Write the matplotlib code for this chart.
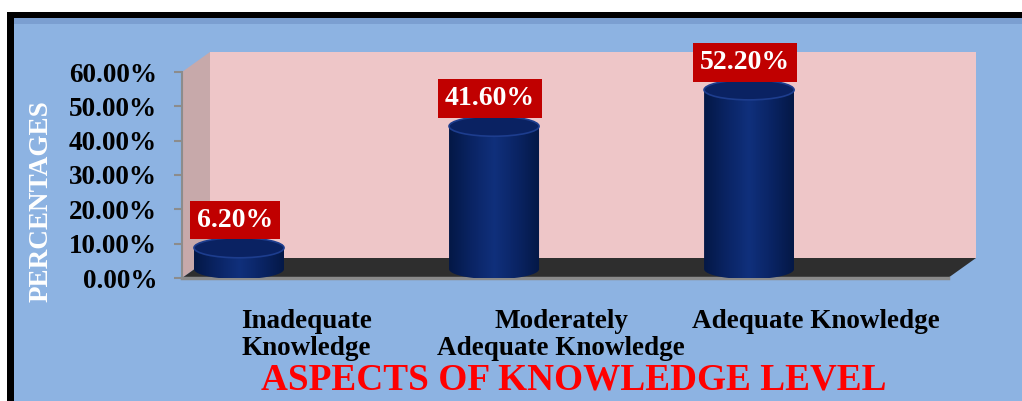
import numpy as np
import matplotlib.pyplot as plt
from matplotlib.patches import Polygon, Ellipse, Rectangle
from matplotlib.colors import LinearSegmentedColormap
from matplotlib.ticker import FuncFormatter

# chart data
categories = ["Inadequate\nKnowledge", "Moderately\nAdequate Knowledge", "Adequate Knowledge"]
percentages = [6.20, 41.60, 52.20]
y_ticks = [0, 10, 20, 30, 40, 50, 60]
y_label = "PERCENTAGES"
title_text = "ASPECTS OF KNOWLEDGE LEVEL"

SERIF = ["Liberation Serif", "DejaVu Serif"]
W, H = 1022, 401

fig = plt.figure(figsize=(W / 100, H / 100), dpi=100, facecolor="white")

# black frame + blue chart area
fig.patches.append(Rectangle((7 / W, 0), 1, 1 - 12 / H, transform=fig.transFigure,
                             facecolor="black", edgecolor="none", zorder=-5))
fig.patches.append(Rectangle((14 / W, 0), 1, 1 - 18 / H, transform=fig.transFigure,
                             facecolor="#8db3e2", edgecolor="none", zorder=-4))
fig.patches.append(Rectangle((14 / W, 1 - 24 / H), 1, 6 / H, transform=fig.transFigure,
                             facecolor="#6f93c6", edgecolor="none", alpha=0.6, zorder=-3))

# plot area (front plane of the 3d box)
ax = fig.add_axes([182 / W, (H - 278) / H, 766 / W, 206 / H])
ax.patch.set_visible(False)
xl, xr = -0.2235, 2.78
ax.set_xlim(xl, xr)
ax.set_ylim(0, 60)

# depth offsets of the 3d box
dx = 28 * (xr - xl) / 766
dy = 20 * 60 / 206
ytop = 60

# back wall
ax.add_patch(Polygon([(xl + dx, dy), (xr + dx, dy), (xr + dx, ytop + dy), (xl + dx, ytop + dy)],
                     closed=True, facecolor="#eec6c8", edgecolor="none", zorder=0, clip_on=False))
# side wall
ax.add_patch(Polygon([(xl, 0), (xl + dx, dy), (xl + dx, ytop + dy), (xl, ytop)],
                     closed=True, facecolor="#c7a9aa", edgecolor="none", zorder=0, clip_on=False))
# floor
ax.add_patch(Polygon([(xl, 0), (xr, 0), (xr + dx, dy), (xl + dx, dy)],
                     closed=True, facecolor="#2e2e2e", edgecolor="none", zorder=1, clip_on=False))

# cylinders
bar_w = 90 * (xr - xl) / 766
ell_h = 20 * 60 / 206
base = 2.6
cmap = LinearSegmentedColormap.from_list(
    "cyl", ["#041846", "#0a2464", "#10307c", "#0a2464", "#041846"])
grad = np.linspace(0, 1, 200)[None, :]

for i, v in enumerate(percentages):
    c = i
    top = base + v
    t = np.linspace(np.pi, 2 * np.pi, 60)
    pts = [(c - bar_w / 2, top)]
    pts += list(zip(c + bar_w / 2 * np.cos(t), base + ell_h / 2 * np.sin(t)))
    pts += [(c + bar_w / 2, top)]
    body = Polygon(pts, closed=True, facecolor="none", edgecolor="none", zorder=3)
    ax.add_patch(body)
    im = ax.imshow(grad, extent=[c - bar_w / 2, c + bar_w / 2, base - ell_h / 2, top],
                   aspect="auto", cmap=cmap, zorder=3, interpolation="bilinear")
    im.set_clip_path(body)
    ax.add_patch(Ellipse((c, top), bar_w, ell_h, facecolor="#0a2262",
                         edgecolor="#1d3d8e", lw=1.2, zorder=4))
    ax.annotate(f"{v:.2f}%", xy=(c, top), xytext=(-3, 20), textcoords="offset points",
                ha="center", va="center", color="white", fontsize=20, fontweight="bold",
                family=SERIF, zorder=6, annotation_clip=False,
                bbox=dict(boxstyle="square,pad=0.25", facecolor="#c00000", edgecolor="none"))

ax.set_xlim(xl, xr)
ax.set_ylim(0, 60)

# axes styling
for s in ["top", "right"]:
    ax.spines[s].set_visible(False)
ax.spines["left"].set_color("#8c8c8c")
ax.spines["left"].set_linewidth(1.5)
ax.spines["bottom"].set_color("#8a8a8a")
ax.spines["bottom"].set_linewidth(2.5)
ax.spines["bottom"].set_zorder(2)

ax.set_yticks(y_ticks)
ax.yaxis.set_major_formatter(FuncFormatter(lambda v, p: f"{v:.2f}%"))
ax.tick_params(axis="y", length=6, width=1.5, color="#8c8c8c", pad=12, labelsize=19.5)
for lab in ax.get_yticklabels():
    lab.set_fontfamily(SERIF)
    lab.set_fontweight("bold")

ax.set_xticks(np.arange(len(categories)) + 0.263)
ax.set_xticklabels(categories)
ax.tick_params(axis="x", length=0, pad=22, labelsize=19.5)
for lab in ax.get_xticklabels():
    lab.set_fontfamily(SERIF)
    lab.set_fontweight("bold")
    lab.set_linespacing(1.12)

fig.text(41.5 / W, 1 - 201 / H, y_label, rotation=90, ha="center", va="center",
         color="white", fontsize=19.5, fontweight="bold", family=SERIF)
fig.text(573.5 / W, 1 - 390 / H, title_text, ha="center", va="baseline",
         color="#ff0000", fontsize=26.8, fontweight="bold", family=SERIF)

fig.savefig("out.png", dpi=100, facecolor="white")
